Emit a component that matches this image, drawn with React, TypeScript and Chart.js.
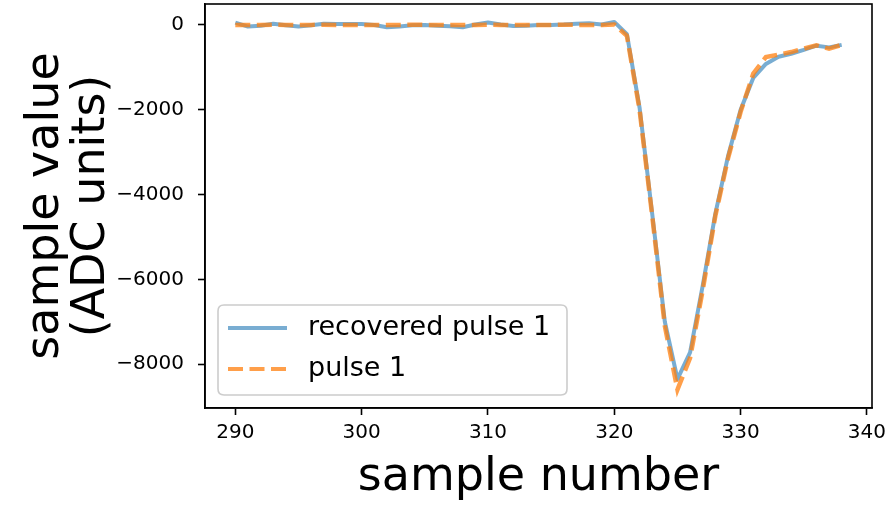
import React, { useEffect, useRef } from "react";
import { Chart, registerables } from "chart.js";

Chart.register(...registerables);

const FONT = "DejaVu Sans";

const sampleNumbers = [
  290, 291, 292, 293, 294, 295, 296, 297, 298, 299,
  300, 301, 302, 303, 304, 305, 306, 307, 308, 309,
  310, 311, 312, 313, 314, 315, 316, 317, 318, 319,
  320, 321, 322, 323, 324, 325, 326, 327, 328, 329,
  330, 331, 332, 333, 334, 335, 336, 337, 338,
];

const recoveredPulse1 = [
  55, -40, -20, 25, -10, -40, -10, 25, 20, 20,
  20, 0, -55, -40, -10, 0, -20, -30, -55, 10,
  55, 10, -25, -20, 0, 0, 10, 30, 40, 10,
  70, -220, -1950, -4450, -7000, -8350, -7720, -6150, -4450, -3100,
  -2000, -1250, -920, -750, -680, -590, -490, -530, -470,
];

const pulse1 = [
  0, -5, 0, 5, 0, -5, 0, 5, 0, 0,
  0, -5, 0, 0, 5, 0, 0, -5, 0, 0,
  5, 0, 0, -5, 0, 0, 5, 0, 0, 0,
  10, -260, -2000, -4500, -7100, -8600, -7850, -6250, -4500, -3150,
  -2050, -1150, -760, -700, -640, -560, -480, -560, -470,
];

const xTicks = [290, 300, 310, 320, 330, 340];
const yTicks = [0, -2000, -4000, -6000, -8000];

const seriesLabels = ["recovered pulse 1", "pulse 1"];
const BLUE = "rgba(31,119,180,0.6)";
const ORANGE = "rgba(255,127,14,0.75)";

const framePlugin = {
  id: "frameAndLegend",
  afterDraw(chart: any) {
    const { ctx, chartArea } = chart;
    const { left, top, right, bottom } = chartArea;
    ctx.save();
    ctx.strokeStyle = "#000";
    ctx.lineWidth = 1.6;
    ctx.strokeRect(left, top, right - left, bottom - top);

    // legend box
    const bx = 218, by = 305, bw = 349, bh = 90, r = 6;
    ctx.beginPath();
    ctx.moveTo(bx + r, by);
    ctx.lineTo(bx + bw - r, by);
    ctx.quadraticCurveTo(bx + bw, by, bx + bw, by + r);
    ctx.lineTo(bx + bw, by + bh - r);
    ctx.quadraticCurveTo(bx + bw, by + bh, bx + bw - r, by + bh);
    ctx.lineTo(bx + r, by + bh);
    ctx.quadraticCurveTo(bx, by + bh, bx, by + bh - r);
    ctx.lineTo(bx, by + r);
    ctx.quadraticCurveTo(bx, by, bx + r, by);
    ctx.closePath();
    ctx.fillStyle = "rgba(255,255,255,0.8)";
    ctx.fill();
    ctx.strokeStyle = "#cccccc";
    ctx.lineWidth = 1.6;
    ctx.stroke();

    const rows = [
      { y: 328, color: BLUE, dash: [] as number[], label: seriesLabels[0] },
      { y: 369, color: ORANGE, dash: [15, 6.5], label: seriesLabels[1] },
    ];
    for (const row of rows) {
      ctx.beginPath();
      ctx.setLineDash(row.dash);
      ctx.strokeStyle = row.color;
      ctx.lineWidth = 4;
      ctx.lineCap = "butt";
      ctx.moveTo(228, row.y);
      ctx.lineTo(287, row.y);
      ctx.stroke();
      ctx.setLineDash([]);
      ctx.fillStyle = "#000";
      ctx.font = `27px "${FONT}"`;
      ctx.textBaseline = "middle";
      ctx.textAlign = "left";
      ctx.fillText(row.label, 308, row.y);
    }
    ctx.restore();
  },
};

export default function App() {
  const ref = useRef<HTMLCanvasElement | null>(null);

  useEffect(() => {
    if (!ref.current) return;
    const chart = new Chart(ref.current, {
      type: "line",
      data: {
        datasets: [
          {
            label: seriesLabels[0],
            data: sampleNumbers.map((x, i) => ({ x, y: recoveredPulse1[i] })),
            borderColor: BLUE,
            borderWidth: 4,
            pointRadius: 0,
            tension: 0,
            borderJoinStyle: "round",
            order: 1,
          },
          {
            label: seriesLabels[1],
            data: sampleNumbers.map((x, i) => ({ x, y: pulse1[i] })),
            borderColor: ORANGE,
            borderWidth: 4.5,
            borderDash: [15, 6.5],
            borderCapStyle: "butt",
            pointRadius: 0,
            tension: 0,
            order: 0,
          },
        ],
      },
      options: {
        responsive: false,
        maintainAspectRatio: false,
        devicePixelRatio: 1,
        animation: false,
        layout: { padding: { top: 4, right: 14, bottom: 0, left: 0 } },
        plugins: { legend: { display: false }, tooltip: { enabled: false } },
        scales: {
          x: {
            type: "linear",
            min: 287.6,
            max: 340.4,
            afterBuildTicks: (s: any) => {
              s.ticks = xTicks.map((v) => ({ value: v }));
            },
            afterFit: (s: any) => {
              s.height = 101;
              s.paddingLeft = 0;
              s.paddingRight = 0;
            },
            ticks: {
              color: "#000",
              font: { family: FONT, size: 20 },
              padding: 6,
              maxRotation: 0,
              autoSkip: false,
              callback: (v: any) => String(v),
            },
            grid: {
              drawOnChartArea: false,
              drawTicks: true,
              tickLength: 7,
              tickWidth: 1.6,
              tickColor: "#000",
            },
            border: { display: true, color: "#000", width: 1.6 },
            title: {
              display: true,
              text: "sample number",
              color: "#000",
              font: { family: FONT, size: 46, lineHeight: 1.2 },
              padding: { top: 0, bottom: 3 },
            },
          },
          y: {
            type: "linear",
            min: -9033,
            max: 493,
            afterBuildTicks: (s: any) => {
              s.ticks = yTicks.map((v) => ({ value: v }));
            },
            afterFit: (s: any) => {
              s.width = 205;
              s.paddingTop = 0;
              s.paddingBottom = 0;
            },
            ticks: {
              color: "#000",
              font: { family: FONT, size: 20 },
              padding: 14,
              callback: (v: any) => (v < 0 ? "\u2212" + Math.abs(v) : String(v)),
            },
            grid: {
              drawOnChartArea: false,
              drawTicks: true,
              tickLength: 7,
              tickWidth: 1.6,
              tickColor: "#000",
            },
            border: { display: true, color: "#000", width: 1.6 },
            title: {
              display: true,
              text: ["sample value", "(ADC units)"],
              color: "#000",
              font: { family: FONT, size: 46, lineHeight: 1.0 },
              padding: { top: 23, bottom: 0 },
            },
          },
        },
      },
      plugins: [framePlugin],
    } as any);
    return () => chart.destroy();
  }, []);

  return (
    <div style={{ position: "absolute", left: 0, top: 0 }}>
      <canvas ref={ref} width={886} height={509} style={{ display: "block" }} />
    </div>
  );
}
